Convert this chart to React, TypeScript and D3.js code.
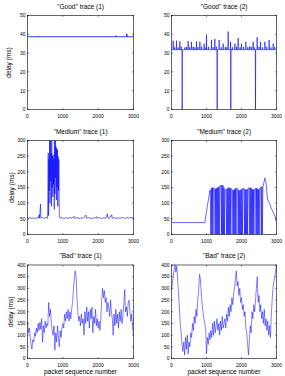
import React from "react";
import * as d3 from "d3";

const W = 285;
const H = 376;

const xTicks = [0, 1000, 2000, 3000];
const yTicksGood = [0, 10, 20, 30, 40, 50];
const yTicksMedium = [0, 50, 100, 150, 200, 250, 300];
const yTicksBad = [0, 50, 100, 150, 200, 250, 300, 350, 400];

const titles = [
  "''Good'' trace (1)",
  "''Good'' trace (2)",
  "''Medium'' trace (1)",
  "''Medium'' trace (2)",
  "''Bad'' trace (1)",
  "''Bad'' trace (2)",
];

// "Good" trace (1): [seq, delay]
const good1Points: [number, number][] = [
  [0, 38.7], [300, 38.7], [310, 39.1], [320, 38.7], [700, 38.7], [710, 39.0], [720, 38.7],
  [1100, 38.7], [1110, 39.0], [1120, 38.7], [1600, 38.7], [1610, 39.0], [1620, 38.7],
  [2200, 38.7], [2210, 39.0], [2220, 38.7], [2500, 38.7], [2510, 39.3], [2520, 38.7],
  [2800, 38.7], [2810, 40.2], [2820, 38.7], [3000, 38.7],
];

// "Good" trace (2): baseline and spikes
const good2Base = 31.8;
const good2Spikes: [number, number][] = [
  [48, 36.6], [143, 36.6], [238, 36.2], [305, 0], [476, 36.4], [571, 36.0], [714, 36.2],
  [810, 36.0], [933, 35.0], [1000, 39.8], [1143, 37.0], [1238, 37.5], [1305, 0], [1362, 37.0],
  [1476, 35.0], [1619, 41.5], [1686, 36.0], [1695, 0], [1810, 35.0], [1905, 38.0], [2000, 35.0],
  [2124, 36.0], [2230, 33.5], [2333, 36.0], [2400, 0], [2448, 38.5], [2543, 36.0], [2667, 36.0],
  [2790, 37.0], [2905, 35.0],
];
const good2Small: [number, number][] = [
  [90, 33.2], [190, 33.0], [280, 33.4], [380, 33.0], [430, 33.3], [520, 33.1], [620, 33.4],
  [670, 33.0], [760, 33.2], [860, 33.5], [980, 33.0], [1060, 33.3], [1190, 33.1], [1280, 33.4],
  [1420, 33.0], [1540, 33.3], [1580, 33.0], [1740, 33.2], [1860, 33.4], [1960, 33.0],
  [2060, 33.3], [2180, 33.1], [2280, 33.4], [2370, 33.0], [2500, 33.3], [2600, 33.1],
  [2720, 33.4], [2840, 33.0], [2950, 33.2],
];

// "Medium" trace (1): [seq, delay]
const medium1Points: [number, number][] = [
  [0, 55], [25, 51], [50, 54], [100, 52], [150, 53], [200, 51], [250, 53], [300, 52],
  [330, 63], [340, 52], [369, 97], [378, 52], [420, 54], [470, 51], [520, 55], [570, 52],
  [587, 260], [597, 60], [607, 240], [617, 140], [627, 300], [637, 100], [647, 300], [657, 170],
  [667, 260], [677, 90], [687, 300], [697, 150], [707, 250], [717, 120], [727, 255], [737, 160],
  [747, 240], [757, 80], [767, 300], [777, 130], [787, 300], [797, 180], [807, 280], [817, 110],
  [827, 275], [837, 150], [847, 270], [857, 90], [867, 250], [877, 140], [887, 240], [897, 120],
  [902, 55], [920, 52], [970, 54], [1020, 51], [1080, 53], [1140, 52], [1200, 54], [1260, 52],
  [1315, 58], [1330, 52], [1400, 54], [1460, 51], [1520, 53], [1580, 52], [1656, 62], [1670, 52],
  [1730, 54], [1790, 51], [1850, 53], [1910, 52], [1950, 57], [1965, 52], [2030, 54], [2090, 51],
  [2150, 53], [2210, 52], [2262, 66], [2275, 52], [2330, 54], [2385, 63], [2395, 52], [2450, 54],
  [2510, 51], [2570, 53], [2630, 52], [2690, 55], [2750, 51], [2810, 54], [2870, 52], [2930, 55],
  [3000, 52],
];

// "Medium" trace (2)
const medium2Head: [number, number][] = [[0, 38], [952, 38], [1095, 140]];
const medium2TopStart = 1110;
const medium2TopStep = 30;
const medium2Top = [
  142, 148, 150, 149, 147, 146, 148, 150, 152, 155, 157, 158, 157, 150, 143, 144, 147,
  149, 150, 148, 146, 143, 142, 144, 147, 148, 146, 143, 140, 143, 146, 148, 147, 145,
  143, 145, 147, 149, 150, 148, 145, 143, 145, 147, 148, 146, 144, 148, 151, 153, 150,
];
const medium2Drops = [
  1, 1, 1, 0, 1, 1, 1, 1, 1, 0, 1, 1, 1, 1, 0, 1, 1, 1, 1, 1, 0, 1, 1, 1, 1,
  0, 1, 1, 1, 1, 1, 0, 1, 1, 1, 1, 0, 1, 1, 1, 1, 1, 0, 1, 1, 1, 1, 0, 1, 1,
];
const medium2Tail: [number, number][] = [
  [2667, 180], [2700, 165], [2743, 112], [2800, 100], [2857, 82], [2952, 60], [3000, 38],
];

// "Bad" traces, every 25 packets
const badStep = 25;
const bad1 = [
  160, 110, 130, 95, 60, 40, 80, 70, 110, 95, 130, 110, 150, 120, 155, 125,
  170, 70, 140, 110, 160, 130, 150, 140, 240, 180, 210, 150, 120, 100, 140, 35,
  110, 70, 140, 90, 50, 120, 90, 130, 150, 130, 190, 160, 200, 170, 210, 160,
  200, 170, 210, 240, 300, 340, 375, 350, 260, 200, 160, 180, 140, 190, 150, 170,
  100, 200, 150, 220, 160, 200, 130, 210, 170, 220, 110, 180, 150, 210, 140, 170,
  130, 160, 120, 170, 250, 300, 260, 290, 240, 260, 200, 240, 220, 180, 250, 200,
  170, 100, 190, 140, 210, 150, 190, 130, 200, 160, 210, 150, 180, 230, 295, 200,
  220, 180, 240, 250, 200, 160, 190, 130, 100,
];
const bad2 = [
  290, 320, 350, 380, 400, 370, 395, 340, 280, 220, 150, 110, 60, 30, 70, 15,
  90, 40, 100, 20, 70, 50, 110, 90, 150, 120, 180, 150, 210, 180, 250, 290,
  360, 340, 280, 230, 200, 170, 150, 130, 20, 90, 60, 110, 80, 120, 90, 150,
  100, 160, 110, 140, 170, 120, 150, 100, 160, 120, 180, 130, 150, 170, 130, 190,
  160, 220, 180, 230, 200, 260, 230, 280, 300, 340, 375, 310, 330, 270, 300, 240,
  260, 210, 230, 180, 200, 130, 110, 60, 15, 80, 140, 110, 200, 170, 230, 200,
  250, 300, 350, 240, 270, 200, 230, 170, 200, 150, 210, 140, 170, 120, 160, 100,
  140, 90, 180, 250, 300, 330, 350, 380, 400,
];

// build series from the arrays above
const good2Points: [number, number][] = [[0, good2Base]];
[...good2Spikes, ...good2Small]
  .sort((a, b) => a[0] - b[0])
  .forEach(([s, v]) => {
    good2Points.push([s - 6, good2Base], [s, v], [s + 6, good2Base]);
  });
good2Points.push([3000, good2Base]);

const medium2Points: [number, number][] = [...medium2Head];
medium2Top.forEach((v, i) => {
  const s = medium2TopStart + i * medium2TopStep;
  medium2Points.push([s, v]);
  if (i < medium2Drops.length && medium2Drops[i]) {
    medium2Points.push([s + medium2TopStep / 2, 0]);
  }
});
medium2Points.push(...medium2Tail);

const bad1Points: [number, number][] = bad1.map((v, i) => [i * badStep, v]);
const bad2Points: [number, number][] = bad2.map((v, i) => [i * badStep, v]);

const cols = [
  { l: 27.5, r: 133.5 },
  { l: 171.5, r: 276.5 },
];
const rows = [
  { t: 15.5, b: 109.5, ylx: 11.3 },
  { t: 140.5, b: 234.5, ylx: 14 },
  { t: 265, b: 358.5, ylx: 13.3 },
];

const FONT = "'Liberation Sans', Arial, Helvetica, sans-serif";

type PanelProps = {
  id: string;
  col: number;
  row: number;
  yMax: number;
  yTicks: number[];
  data: [number, number][];
  title: string;
  ylabel?: boolean;
  xlabel?: boolean;
  sw?: number;
};

function Panel({ id, col, row, yMax, yTicks, data, title, ylabel, xlabel, sw = 0.6 }: PanelProps) {
  const { l, r } = cols[col];
  const { t, b, ylx } = rows[row];
  const x = d3.scaleLinear().domain([0, 3000]).range([l, r]);
  const y = d3.scaleLinear().domain([0, yMax]).range([b, t]);
  const line = d3
    .line<[number, number]>()
    .x((d) => x(d[0]))
    .y((d) => y(d[1]));
  const tk = 1.5;
  return (
    <g>
      <defs>
        <clipPath id={id}>
          <rect x={l} y={t} width={r - l} height={b - t} />
        </clipPath>
      </defs>
      <path
        d={line(data) || ""}
        fill="none"
        stroke="#0000ff"
        strokeWidth={sw}
        clipPath={`url(#${id})`}
      />
      <rect x={l} y={t} width={r - l} height={b - t} fill="none" stroke="#000" strokeWidth={0.6} />
      {xTicks.map((v) => (
        <g key={"x" + v}>
          <line x1={x(v)} x2={x(v)} y1={b} y2={b - tk} stroke="#000" strokeWidth={0.5} />
          <line x1={x(v)} x2={x(v)} y1={t} y2={t + tk} stroke="#000" strokeWidth={0.5} />
          <text x={x(v)} y={b + 8} fontSize={5} textAnchor="middle" fontFamily={FONT} fill="#000">
            {v}
          </text>
        </g>
      ))}
      {yTicks.map((v) => (
        <g key={"y" + v}>
          <line x1={l} x2={l + tk} y1={y(v)} y2={y(v)} stroke="#000" strokeWidth={0.5} />
          <line x1={r} x2={r - tk} y1={y(v)} y2={y(v)} stroke="#000" strokeWidth={0.5} />
          <text x={l - 2} y={y(v) + 1.8} fontSize={5} textAnchor="end" fontFamily={FONT} fill="#000">
            {v}
          </text>
        </g>
      ))}
      <text x={(l + r) / 2} y={t - 7} fontSize={6.5} textAnchor="middle" fontFamily={FONT} fill="#000">
        {title}
      </text>
      {ylabel && (
        <text
          transform={`translate(${ylx},${(t + b) / 2}) rotate(-90)`}
          fontSize={6.5}
          textAnchor="middle"
          fontFamily={FONT}
          fill="#000"
        >
          delay (ms)
        </text>
      )}
      {xlabel && (
        <text x={(l + r) / 2} y={373.5} fontSize={6.5} textAnchor="middle" fontFamily={FONT} fill="#000">
          packet sequence number
        </text>
      )}
    </g>
  );
}

export default function App() {
  return (
    <svg
      width={W}
      height={H}
      style={{ position: "absolute", left: 0, top: 0, background: "#fff" }}
    >
      <rect width={W} height={H} fill="#fff" />
      <Panel id="c1" col={0} row={0} yMax={50} yTicks={yTicksGood} data={good1Points} title={titles[0]} ylabel sw={0.8} />
      <Panel id="c2" col={1} row={0} yMax={50} yTicks={yTicksGood} data={good2Points} title={titles[1]} />
      <Panel id="c3" col={0} row={1} yMax={300} yTicks={yTicksMedium} data={medium1Points} title={titles[2]} ylabel />
      <Panel id="c4" col={1} row={1} yMax={300} yTicks={yTicksMedium} data={medium2Points} title={titles[3]} />
      <Panel id="c5" col={0} row={2} yMax={400} yTicks={yTicksBad} data={bad1Points} title={titles[4]} ylabel xlabel sw={0.5} />
      <Panel id="c6" col={1} row={2} yMax={400} yTicks={yTicksBad} data={bad2Points} title={titles[5]} xlabel sw={0.5} />
    </svg>
  );
}
